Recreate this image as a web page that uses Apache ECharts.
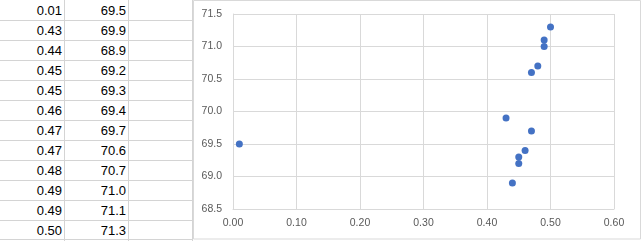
<!DOCTYPE html>
<html><head><meta charset="utf-8">
<script src="https://cdn.jsdelivr.net/npm/echarts@6/dist/echarts.min.js"></script>
<style>
html,body{margin:0;padding:0;background:#fff;width:641px;height:241px;overflow:hidden;}
#tbl{position:absolute;left:0;top:0;width:193px;height:241px;}
.cell{position:absolute;height:20px;line-height:20px;font-family:"Liberation Sans",Arial,sans-serif;font-size:13px;color:#000;text-align:right;}
.hl{position:absolute;height:1px;background:#d4d4d4;}
.vl{position:absolute;width:1px;background:#d4d4d4;}
#chart{position:absolute;left:0;top:0;width:641px;height:241px;}
</style></head>
<body>
<div id="tbl"></div>
<div id="chart"></div>
<script>
var xLabels = ['0.01','0.43','0.44','0.45','0.45','0.46','0.47','0.47','0.48','0.49','0.49','0.50'];
var xValues = [0.01,0.43,0.44,0.45,0.45,0.46,0.47,0.47,0.48,0.49,0.49,0.50];
var yValues = [69.5,69.9,68.9,69.2,69.3,69.4,69.7,70.6,70.7,71.0,71.1,71.3];

// spreadsheet table
var tbl = document.getElementById('tbl');
var html = '';
for (var i = 0; i < xLabels.length; i++) {
  var rowTop = i * 20 + 1;
  html += '<div class="cell" style="left:0;width:62px;top:' + rowTop + 'px">' + xLabels[i] + '</div>';
  html += '<div class="cell" style="left:64px;width:62px;top:' + rowTop + 'px">' + yValues[i].toFixed(1) + '</div>';
  if (i > 0) html += '<div class="hl" style="left:0;width:193px;top:' + (i * 20) + 'px"></div>';
}
html += '<div class="hl" style="left:0;width:193px;top:239px"></div>';
html += '<div class="vl" style="left:64px;top:0;height:241px"></div>';
html += '<div class="vl" style="left:128px;top:0;height:241px"></div>';
html += '<div class="vl" style="left:192px;top:0;height:241px"></div>';
tbl.innerHTML = html;

var chart = echarts.init(document.getElementById('chart'), null, {renderer: 'canvas'});
var pts = xValues.map(function (x, i) { return [x, yValues[i]]; });
chart.setOption({
  animation: false,
  graphic: [{
    type: 'rect', z: -10,
    shape: {x: 193.5, y: 0.5, width: 447, height: 238.5},
    style: {fill: '#fff', stroke: '#d9d9d9', lineWidth: 1}
  }],
  grid: {left: 233, right: 27, top: 14, bottom: 32},
  xAxis: {
    type: 'value', min: 0, max: 0.6, interval: 0.1,
    axisLine: {show: true, lineStyle: {color: '#d9d9d9'}},
    axisTick: {show: false},
    splitLine: {show: true, lineStyle: {color: '#d9d9d9'}},
    axisLabel: {color: '#595959', fontFamily: 'Liberation Sans', fontSize: 10.5, margin: 9,
      formatter: function (v) { return v.toFixed(2); }}
  },
  yAxis: {
    type: 'value', min: 68.5, max: 71.5, interval: 0.5,
    axisLine: {show: true, lineStyle: {color: '#d9d9d9'}},
    axisTick: {show: false},
    splitLine: {show: true, lineStyle: {color: '#d9d9d9'}},
    axisLabel: {color: '#595959', fontFamily: 'Liberation Sans', fontSize: 10.5, margin: 11,
      formatter: function (v) { return v.toFixed(1); }}
  },
  series: [{
    type: 'scatter', data: pts, symbolSize: 7,
    itemStyle: {color: '#4472C4', opacity: 1}
  }]
});
</script>
</body></html>
